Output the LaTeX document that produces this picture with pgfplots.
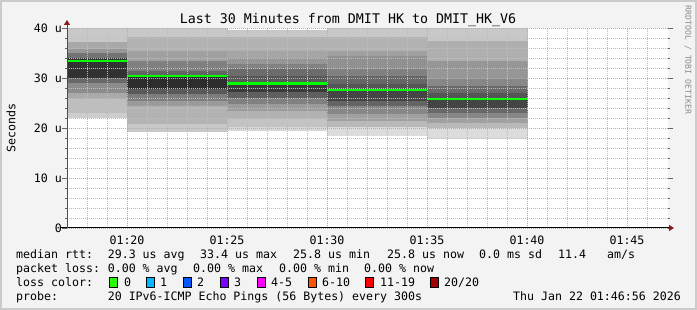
\documentclass[border=0pt]{standalone}
\usepackage{fontspec}
\setmainfont{DejaVu Sans Mono}
\usepackage{pgfplots}
\pgfplotsset{compat=1.18}
\usetikzlibrary{arrows.meta}
\definecolor{canvas}{HTML}{F3F3F3}
\definecolor{frame}{HTML}{CBCBCB}
\definecolor{mgrid}{RGB}{232,150,150}
\definecolor{gridc}{RGB}{190,190,190}
\definecolor{arr}{HTML}{8B1A1A}
\definecolor{med}{HTML}{00FF00}
\definecolor{l0}{HTML}{26FF00}
\definecolor{l1}{HTML}{00B8FF}
\definecolor{l2}{HTML}{0059FF}
\definecolor{l3}{HTML}{7E00FF}
\definecolor{l4}{HTML}{FF00FF}
\definecolor{l6}{HTML}{FF5500}
\definecolor{l11}{HTML}{FF0000}
\definecolor{l20}{HTML}{A10000}
\newcommand\lf{\fontsize{11.6}{13}\selectfont}
\pgfplotsset{sm/.style={draw={rgb,255:red,#1;green,#1;blue,#1}, fill={rgb,255:red,#1;green,#1;blue,#1}, line width=0.3pt, mark=none}}
\begin{document}
\begin{tikzpicture}[x=1pt,y=1pt]
\useasboundingbox (0,0) rectangle (697,310);
\fill[canvas] (0,0) rectangle (697,310);
\draw[frame, line width=2pt] (1,1) rectangle (696,309);
\begin{axis}[
  at={(67pt,82pt)}, anchor=south west, scale only axis, width=601pt, height=200pt,
  xmin=17, xmax=47.05, ymin=0, ymax=40,
  axis background/.style={fill=white},
  axis line style={draw=none},
  axis on top,
  xtick={20,25,30,35,40,45},
  xticklabels={01:20,01:25,01:30,01:35,01:40,01:45},
  minor xtick={18,19,21,22,23,24,26,27,28,29,31,32,33,34,36,37,38,39,41,42,43,44,46},
  ytick={0,10,20,30,40},
  yticklabels={0,10 u,20 u,30 u,40 u},
  minor ytick={2,4,6,8,12,14,16,18,22,24,26,28,32,34,36,38},
  grid=both,
  major grid style={mgrid, dash pattern=on 1pt off 1pt, line width=0.9pt},
  minor grid style={gridc, dash pattern=on 1pt off 1pt, line width=0.9pt},
  tick align=outside,
  xtick style={draw=none},
  ytick style={black!60, line width=0.8pt},
  major tick length=5pt, minor tick length=2pt,
  tick label style={font=\lf},
  xticklabel style={anchor=base, inner sep=0pt, yshift=-12pt},
  yticklabel style={anchor=base east, inner sep=0pt, yshift=-4.2pt},
]
% bar 1 (01:17-01:20)
\addplot[sm=205] coordinates {(17,22.2) (20,22.2) (20,23.2) (17,23.2)};
\addplot[sm=190] coordinates {(17,23.2) (20,23.2) (20,25.9) (17,25.9)};
\addplot[sm=170] coordinates {(17,25.9) (20,25.9) (20,27.2) (17,27.2)};
\addplot[sm=140] coordinates {(17,27.2) (20,27.2) (20,29.2) (17,29.2)};
\addplot[sm=105] coordinates {(17,29.2) (20,29.2) (20,30.2) (17,30.2)};
\addplot[sm=50]  coordinates {(17,30.2) (20,30.2) (20,34.2) (17,34.2)};
\addplot[sm=115] coordinates {(17,34.2) (20,34.2) (20,35.2) (17,35.2)};
\addplot[sm=150] coordinates {(17,35.2) (20,35.2) (20,36.0) (17,36.0)};
\addplot[sm=168] coordinates {(17,36.0) (20,36.0) (20,37.3) (17,37.3)};
\addplot[sm=200] coordinates {(17,37.3) (20,37.3) (20,40) (17,40)};
% bar 2 (01:20-01:25)
\addplot[sm=200] coordinates {(20,19.3) (25,19.3) (25,21.0) (20,21.0)};
\addplot[sm=180] coordinates {(20,21.0) (25,21.0) (25,22.2) (20,22.2)};
\addplot[sm=178] coordinates {(20,22.2) (25,22.2) (25,24.6) (20,24.6)};
\addplot[sm=155] coordinates {(20,24.6) (25,24.6) (25,25.6) (20,25.6)};
\addplot[sm=125] coordinates {(20,25.6) (25,25.6) (25,26.9) (20,26.9)};
\addplot[sm=90]  coordinates {(20,26.9) (25,26.9) (25,27.9) (20,27.9)};
\addplot[sm=45]  coordinates {(20,27.9) (25,27.9) (25,30.6) (20,30.6)};
\addplot[sm=100] coordinates {(20,30.6) (25,30.6) (25,31.6) (20,31.6)};
\addplot[sm=128] coordinates {(20,31.6) (25,31.6) (25,33.6) (20,33.6)};
\addplot[sm=160] coordinates {(20,33.6) (25,33.6) (25,35.6) (20,35.6)};
\addplot[sm=178] coordinates {(20,35.6) (25,35.6) (25,38.3) (20,38.3)};
\addplot[sm=200] coordinates {(20,38.3) (25,38.3) (25,40) (20,40)};
% bar 3 (01:25-01:30)
\addplot[sm=215] coordinates {(25,19.5) (30,19.5) (30,20.3) (25,20.3)};
\addplot[sm=195] coordinates {(25,20.3) (30,20.3) (30,22.0) (25,22.0)};
\addplot[sm=178] coordinates {(25,22.0) (30,22.0) (30,23.6) (25,23.6)};
\addplot[sm=155] coordinates {(25,23.6) (30,23.6) (30,25.0) (25,25.0)};
\addplot[sm=128] coordinates {(25,25.0) (30,25.0) (30,26.2) (25,26.2)};
\addplot[sm=95]  coordinates {(25,26.2) (30,26.2) (30,27.3) (25,27.3)};
\addplot[sm=58]  coordinates {(25,27.3) (30,27.3) (30,29.3) (25,29.3)};
\addplot[sm=88]  coordinates {(25,29.3) (30,29.3) (30,30.6) (25,30.6)};
\addplot[sm=108] coordinates {(25,30.6) (30,30.6) (30,32.0) (25,32.0)};
\addplot[sm=130] coordinates {(25,32.0) (30,32.0) (30,33.0) (25,33.0)};
\addplot[sm=150] coordinates {(25,33.0) (30,33.0) (30,34.2) (25,34.2)};
\addplot[sm=165] coordinates {(25,34.2) (30,34.2) (30,35.6) (25,35.6)};
\addplot[sm=178] coordinates {(25,35.6) (30,35.6) (30,38.4) (25,38.4)};
\addplot[sm=200] coordinates {(25,38.4) (30,38.4) (30,39.6) (25,39.6)};
% bar 4 (01:30-01:35)
\addplot[sm=220] coordinates {(30,18.6) (35,18.6) (35,20.3) (30,20.3)};
\addplot[sm=185] coordinates {(30,20.3) (35,20.3) (35,21.6) (30,21.6)};
\addplot[sm=160] coordinates {(30,21.6) (35,21.6) (35,22.9) (30,22.9)};
\addplot[sm=135] coordinates {(30,22.9) (35,22.9) (35,24.6) (30,24.6)};
\addplot[sm=100] coordinates {(30,24.6) (35,24.6) (35,25.6) (30,25.6)};
\addplot[sm=68]  coordinates {(30,25.6) (35,25.6) (35,27.6) (30,27.6)};
\addplot[sm=85]  coordinates {(30,27.6) (35,27.6) (35,28.9) (30,28.9)};
\addplot[sm=102] coordinates {(30,28.9) (35,28.9) (35,30.6) (30,30.6)};
\addplot[sm=128] coordinates {(30,30.6) (35,30.6) (35,31.9) (30,31.9)};
\addplot[sm=145] coordinates {(30,31.9) (35,31.9) (35,34.6) (30,34.6)};
\addplot[sm=160] coordinates {(30,34.6) (35,34.6) (35,35.6) (30,35.6)};
\addplot[sm=178] coordinates {(30,35.6) (35,35.6) (35,38.3) (30,38.3)};
\addplot[sm=200] coordinates {(30,38.3) (35,38.3) (35,40) (30,40)};
% bar 5 (01:35-01:40)
\addplot[sm=220] coordinates {(35,18.0) (40,18.0) (40,20.2) (35,20.2)};
\addplot[sm=185] coordinates {(35,20.2) (40,20.2) (40,21.2) (35,21.2)};
\addplot[sm=160] coordinates {(35,21.2) (40,21.2) (40,22.2) (35,22.2)};
\addplot[sm=135] coordinates {(35,22.2) (40,22.2) (40,23.2) (35,23.2)};
\addplot[sm=105] coordinates {(35,23.2) (40,23.2) (40,24.2) (35,24.2)};
\addplot[sm=68]  coordinates {(35,24.2) (40,24.2) (40,26.0) (35,26.0)};
\addplot[sm=85]  coordinates {(35,26.0) (40,26.0) (40,27.2) (35,27.2)};
\addplot[sm=105] coordinates {(35,27.2) (40,27.2) (40,28.6) (35,28.6)};
\addplot[sm=135] coordinates {(35,28.6) (40,28.6) (40,30.0) (35,30.0)};
\addplot[sm=150] coordinates {(35,30.0) (40,30.0) (40,33.6) (35,33.6)};
\addplot[sm=175] coordinates {(35,33.6) (40,33.6) (40,37.6) (35,37.6)};
\addplot[sm=200] coordinates {(35,37.6) (40,37.6) (40,40) (35,40)};
% median rtt
\addplot[med, line width=2.2pt, mark=none, unbounded coords=jump] coordinates {
 (17,33.4) (20,33.4) (20,nan)
 (20,30.4) (25,30.4) (25,nan)
 (25,28.9) (30,28.9) (30,nan)
 (30,27.6) (35,27.6) (35,nan)
 (35,25.8) (40,25.8)};
\end{axis}
% axis lines
\draw[black, line width=1pt, -{Triangle[length=5pt,width=6pt,color=arr]}] (61,82) -- (674,82);
\draw[black!70, line width=1pt, -{Triangle[length=5pt,width=6pt,color=arr]}] (67,82) -- (67,290);
% title and labels
\node[anchor=base, inner sep=0pt, font=\fontsize{13.3}{15}\selectfont] at (348,286.1) {Last 30 Minutes from DMIT HK to DMIT\_HK\_V6};
\node[rotate=90, inner sep=0pt, font=\lf] at (11,182) {Seconds};
\node[rotate=-90, inner sep=0pt, text=black!45, font=\fontsize{8.2}{9}\selectfont] at (688,250) {RRDTOOL / TOBI OETIKER};
% legend
\begin{scope}[every node/.style={anchor=base west, inner sep=0pt, font=\lf}]
\node at (16,51.8) {median rtt:};
\node at (107.6,51.8) {29.3 us avg};
\node at (200,51.8) {33.4 us max};
\node at (293,51.8) {25.8 us min};
\node at (387,51.8) {25.8 us now};
\node at (479,51.8) {0.0 ms sd};
\node at (558,51.8) {11.4};
\node at (607,51.8) {am/s};
\node at (16,37.8) {packet loss:};
\node at (107.6,37.8) {0.00 \% avg};
\node at (193,37.8) {0.00 \% max};
\node at (279,37.8) {0.00 \% min};
\node at (364,37.8) {0.00 \% now};
\node at (16,23.8) {loss color:};
\node at (124,23.8) {0};
\node at (160,23.8) {1};
\node at (197,23.8) {2};
\node at (234,23.8) {3};
\node at (271,23.8) {4-5};
\node at (322,23.8) {6-10};
\node at (380,23.8) {11-19};
\node at (444,23.8) {20/20};
\node at (16,9.8) {probe:};
\node at (107.6,9.8) {20 IPv6-ICMP Echo Pings (56 Bytes) every 300s};
\node[anchor=base east] at (681,9.8) {Thu Jan 22 01:46:56 2026};
\end{scope}
\foreach \xx/\cc in {109/l0,146/l1,183/l2,220/l3,257/l4,308/l6,365/l11,430/l20}
  \draw[black, fill=\cc, line width=0.8pt] (\xx,23) rectangle ++(8,10);
\end{tikzpicture}
\end{document}
